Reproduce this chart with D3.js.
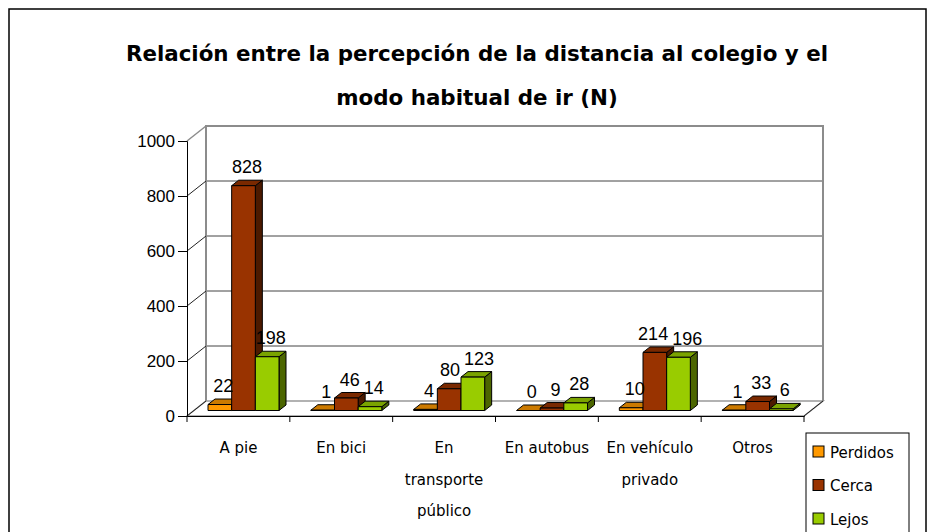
<!DOCTYPE html>
<html>
<head>
<meta charset="utf-8">
<script src="https://cdn.jsdelivr.net/npm/d3@7"></script>
<style>
  body { margin: 0; background: #fff; }
  svg { display: block; }
</style>
</head>
<body>
<div id="chart"></div>
<script>
// data
const categories = ["A pie", "En bici", "En transporte público", "En autobus", "En vehículo privado", "Otros"];
const categoryLines = [["A pie"], ["En bici"], ["En", "transporte", "público"], ["En autobus"], ["En vehículo", "privado"], ["Otros"]];
const series = ["Perdidos", "Cerca", "Lejos"];
const perdidos = [22, 1, 4, 0, 10, 1];
const cerca = [828, 46, 80, 9, 214, 33];
const lejos = [198, 14, 123, 28, 196, 6];
const yTicks = [0, 200, 400, 600, 800, 1000];
const title = ["Relación entre la percepción de la distancia al colegio y el", "modo habitual de ir (N)"];

const values = [perdidos, cerca, lejos];
const colors = {
    Perdidos: { front: "#ff9900", top: "#cc7a00", side: "#995c00" },
    Cerca: { front: "#993300", top: "#7a2900", side: "#4c1a00" },
    Lejos: { front: "#99cc00", top: "#7aa300", side: "#4c6600" }
};

//dimensions
const w = 935, h = 532;
const wall = { dx: 19, dy: -15 };   // depth of the back wall
const depth = { dx: 7, dy: -5.5 };  // depth of one bar
const barShift = { dx: 7.5 };       // bars sit a little behind the front

const svg = d3.select("#chart")
    .append("svg")
    .attr("width", w)
    .attr("height", h);

svg.append("rect")
    .attr("x", 9).attr("y", 9)
    .attr("width", 917).attr("height", 560)
    .attr("fill", "#fff")
    .attr("stroke", "#000")
    .attr("stroke-width", 1.5);

//scales
const xScale = d3.scaleBand().domain(categories).range([187, 804]);
const xSub = d3.scaleBand().domain(series).range([13.5, 84.5]);
const yScale = d3.scaleLinear().domain([0, 1000]).range([416, 141]);
const yBar = d3.scaleLinear().domain([0, 1000]).range([410.5, 139]);

const x0 = xScale.range()[0], x1 = xScale.range()[1];

/* WALLS */
const walls = svg.append("g");
// floor
walls.append("path")
    .attr("d", `M${x0},${yScale(0)}L${x1},${yScale(0)}L${x1 + wall.dx},${yScale(0) + wall.dy}L${x0 + wall.dx},${yScale(0) + wall.dy}Z`)
    .attr("fill", "#fff")
    .attr("stroke", "#999")
    .attr("stroke-width", 1.5);
// back grid lines
walls.selectAll(".grid")
    .data(yTicks.slice(1, -1))
    .join("line")
    .attr("x1", x0 + wall.dx).attr("x2", x1 + wall.dx)
    .attr("y1", d => yScale(d) + wall.dy).attr("y2", d => yScale(d) + wall.dy)
    .attr("stroke", "#444")
    .attr("stroke-width", 1);
// back wall outline
walls.append("path")
    .attr("d", `M${x0 + wall.dx},${yScale(0) + wall.dy}V${yScale(1000) + wall.dy}H${x1 + wall.dx}V${yScale(0) + wall.dy}`)
    .attr("fill", "none")
    .attr("stroke", "#8c8c8c")
    .attr("stroke-width", 2);
// side wall diagonals
walls.selectAll(".diag")
    .data(yTicks)
    .join("line")
    .attr("x1", x0).attr("x2", x0 + wall.dx)
    .attr("y1", d => yScale(d)).attr("y2", d => yScale(d) + wall.dy)
    .attr("stroke", d => d === 1000 ? "#8c8c8c" : "#222")
    .attr("stroke-width", d => d === 1000 ? 1.5 : 1);
walls.append("line")
    .attr("x1", x1).attr("x2", x1 + wall.dx)
    .attr("y1", yScale(0)).attr("y2", yScale(0) + wall.dy)
    .attr("stroke", "#222");

/* AXES */
const yaxis = d3.axisLeft(yScale).tickValues(yTicks).tickFormat(d3.format("d")).tickSize(9).tickPadding(3);
const ygrp = svg.append("g")
    .attr("transform", `translate(${x0},0)`)
    .call(yaxis);
ygrp.select(".domain").attr("stroke", "#000");
ygrp.selectAll("text")
    .attr("font-family", "'Liberation Sans', Arial, sans-serif")
    .attr("font-size", 17)
    .attr("fill", "#000");

const xaxis = d3.axisBottom(xScale).tickSize(0).tickFormat("");
const xgrp = svg.append("g")
    .attr("transform", `translate(0,${yScale(0)})`)
    .call(xaxis);
xgrp.select(".domain").attr("stroke", "#000").attr("stroke-width", 1.2);
// tick marks at band edges
xgrp.selectAll(".edge")
    .data(categories.concat(["end"]))
    .join("line")
    .attr("x1", (d, i) => x0 + i * xScale.bandwidth())
    .attr("x2", (d, i) => x0 + i * xScale.bandwidth())
    .attr("y1", 0).attr("y2", 6)
    .attr("stroke", "#000");
// category labels
categoryLines.forEach((lines, i) => {
    const t = svg.append("text")
        .attr("text-anchor", "middle")
        .attr("font-family", "'DejaVu Sans', sans-serif")
        .attr("font-size", 15)
        .attr("fill", "#000");
    lines.forEach((line, j) => {
        t.append("tspan")
            .attr("x", xScale(categories[i]) + xScale.bandwidth() / 2)
            .attr("y", 453 + j * 31.5)
            .text(line);
    });
});

/* BARS */
const bars = svg.append("g");
categories.forEach((cat, ci) => {
    series.forEach((s, si) => {
        const v = values[si][ci];
        const bx = xScale(cat) + xSub(s) + barShift.dx;
        const bw = xSub.bandwidth();
        const yt = yBar(v), yb = yBar(0);
        const c = colors[s];
        const g = bars.append("g").attr("stroke", "#000").attr("stroke-width", 1).attr("stroke-linejoin", "round");
        // side face
        g.append("path")
            .attr("d", `M${bx + bw},${yt}L${bx + bw + depth.dx},${yt + depth.dy}L${bx + bw + depth.dx},${yb + depth.dy}L${bx + bw},${yb}Z`)
            .attr("fill", c.side);
        // top face
        g.append("path")
            .attr("d", `M${bx},${yt}L${bx + depth.dx},${yt + depth.dy}L${bx + bw + depth.dx},${yt + depth.dy}L${bx + bw},${yt}Z`)
            .attr("fill", c.top);
        // front face
        g.append("rect")
            .attr("x", bx).attr("y", yt)
            .attr("width", bw).attr("height", yb - yt)
            .attr("fill", c.front);
    });
});

/* DATA LABELS */
categories.forEach((cat, ci) => {
    const labels = series.map((s, si) => {
        const v = values[si][ci];
        return svg.append("text")
            .attr("x", xScale(cat) + xSub(s) + barShift.dx + xSub.bandwidth() / 2 + depth.dx / 2)
            .attr("y", yBar(v) + depth.dy - 7)
            .attr("text-anchor", "middle")
            .attr("font-family", "'Liberation Sans', Arial, sans-serif")
            .attr("font-size", 18)
            .attr("fill", "#000")
            .text(v);
    });
    // push apart neighbours that collide
    for (let i = 0; i < labels.length - 1; i++) {
        const a = labels[i].node().getBBox(), b = labels[i + 1].node().getBBox();
        const gap = a.x + a.width + 4 - b.x;
        const vOverlap = a.y < b.y + b.height && b.y < a.y + a.height;
        if (gap > 0 && vOverlap) {
            labels[i].attr("x", +labels[i].attr("x") - gap / 2);
            labels[i + 1].attr("x", +labels[i + 1].attr("x") + gap / 2);
        }
    }
});

/* TITLE */
const titleSize = 21.4;
title.forEach((line, i) => {
    svg.append("text")
        .attr("x", 477)
        .attr("y", 61 + i * 44)
        .attr("text-anchor", "middle")
        .attr("font-family", "'DejaVu Sans', sans-serif")
        .attr("font-weight", "bold")
        .attr("font-size", titleSize)
        .attr("fill", "#000")
        .text(line);
});

/* LEGEND */
const legend = svg.append("g");
legend.append("rect")
    .attr("x", 806).attr("y", 433)
    .attr("width", 103).attr("height", 120)
    .attr("fill", "#fff")
    .attr("stroke", "#000");
series.forEach((s, i) => {
    const ly = 452 + i * 33.5;
    legend.append("rect")
        .attr("x", 813).attr("y", ly - 6)
        .attr("width", 11).attr("height", 11)
        .attr("fill", colors[s].front)
        .attr("stroke", "#000");
    legend.append("text")
        .attr("x", 830).attr("y", ly + 5.5)
        .attr("font-family", "'DejaVu Sans', sans-serif")
        .attr("font-size", 15)
        .attr("fill", "#000")
        .text(s);
});
</script>
</body>
</html>
